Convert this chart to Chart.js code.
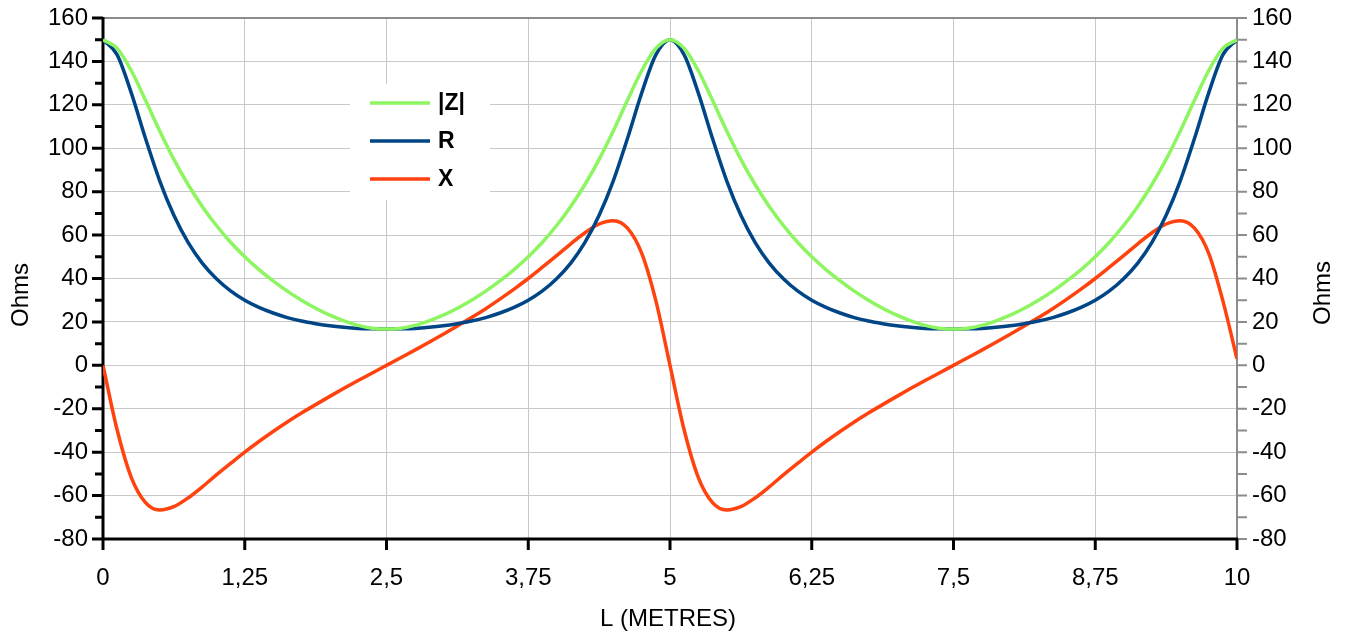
<!DOCTYPE html>
<html>
<head>
<meta charset="utf-8">
<script src="https://cdn.jsdelivr.net/npm/chart.js@4"></script>
<style>
  html, body { margin: 0; padding: 0; background: #fff; }
  #wrap { width: 1348px; height: 635px; position: relative; }
</style>
</head>
<body>
<div id="wrap"><canvas id="chart" width="1348" height="635"></canvas></div>
<script>
// line length L in metres, step 0.125
const lengths = [
  0, 0.125, 0.25, 0.375, 0.5, 0.625, 0.75, 0.875, 1, 1.125, 1.25, 1.375, 1.5, 1.625, 1.75, 1.875,
  2, 2.125, 2.25, 2.375, 2.5, 2.625, 2.75, 2.875, 3, 3.125, 3.25, 3.375, 3.5, 3.625, 3.75, 3.875,
  4, 4.125, 4.25, 4.375, 4.5, 4.625, 4.75, 4.875, 5, 5.125, 5.25, 5.375, 5.5, 5.625, 5.75, 5.875,
  6, 6.125, 6.25, 6.375, 6.5, 6.625, 6.75, 6.875, 7, 7.125, 7.25, 7.375, 7.5, 7.625, 7.75, 7.875,
  8, 8.125, 8.25, 8.375, 8.5, 8.625, 8.75, 8.875, 9, 9.125, 9.25, 9.375, 9.5, 9.625, 9.75, 9.875, 10
];

const zMag = [
  150, 146.0, 135.7, 122.1, 108.0, 94.9, 83.3, 73.2, 64.4, 56.7, 50, 44.1, 38.9, 34.2, 30.0, 26.3,
  23.1, 20.5, 18.4, 17.1, 16.7, 17.1, 18.4, 20.5, 23.1, 26.3, 30.0, 34.2, 38.9, 44.1, 50, 56.7,
  64.4, 73.2, 83.3, 94.9, 108.0, 122.1, 135.7, 146.0, 150, 146.0, 135.7, 122.1, 108.0, 94.9, 83.3, 73.2,
  64.4, 56.7, 50, 44.1, 38.9, 34.2, 30.0, 26.3, 23.1, 20.5, 18.4, 17.1, 16.7, 17.1, 18.4, 20.5,
  23.1, 26.3, 30.0, 34.2, 38.9, 44.1, 50, 56.7, 64.4, 73.2, 83.3, 94.9, 108.0, 122.1, 135.7, 146.0, 150
];

const resistance = [
  150, 143.0, 125.4, 104.5, 85.0, 69.1, 56.6, 47.1, 39.9, 34.3, 30, 26.7, 24.1, 22.0, 20.4, 19.2,
  18.2, 17.5, 17.0, 16.8, 16.7, 16.8, 17.0, 17.5, 18.2, 19.2, 20.4, 22.0, 24.1, 26.7, 30, 34.3,
  39.9, 47.1, 56.6, 69.1, 85.0, 104.5, 125.4, 143.0, 150, 143.0, 125.4, 104.5, 85.0, 69.1, 56.6, 47.1,
  39.9, 34.3, 30, 26.7, 24.1, 22.0, 20.4, 19.2, 18.2, 17.5, 17.0, 16.8, 16.7, 16.8, 17.0, 17.5,
  18.2, 19.2, 20.4, 22.0, 24.1, 26.7, 30, 34.3, 39.9, 47.1, 56.6, 69.1, 85.0, 104.5, 125.4, 143.0, 150
];

const reactance = [
  0, -29.8, -51.7, -63.2, -66.6, -65.1, -61.1, -56.0, -50.5, -45.2, -40, -35.1, -30.5, -26.1, -22.0, -18.1,
  -14.3, -10.6, -7.0, -3.5, 0, 3.5, 7.0, 10.6, 14.3, 18.1, 22.0, 26.1, 30.5, 35.1, 40, 45.2,
  50.5, 56.0, 61.1, 65.1, 66.6, 63.2, 51.7, 29.8, 0, -29.8, -51.7, -63.2, -66.6, -65.1, -61.1, -56.0,
  -50.5, -45.2, -40, -35.1, -30.5, -26.1, -22.0, -18.1, -14.3, -10.6, -7.0, -3.5, 0, 3.5, 7.0, 10.6,
  14.3, 18.1, 22.0, 26.1, 30.5, 35.1, 40, 45.2, 50.5, 56.0, 61.1, 65.1, 66.6, 63.2, 51.7, 29.8, 3
];

const seriesNames = ['|Z|', 'R', 'X'];
const seriesColors = ['#8cf55f', '#004586', '#ff420e'];
const xTicks = [0, 1.25, 2.5, 3.75, 5, 6.25, 7.5, 8.75, 10];
const xTitle = 'L (METRES)';
const yTitle = 'Ohms';

const FONT = '"Liberation Sans", Arial, sans-serif';
const FS = 24;

function toPoints(arr) {
  return arr.map((v, i) => ({ x: lengths[i], y: v }));
}

function fmtComma(v) {
  return String(v).replace('.', ',');
}

// axis lines, tick marks, titles and the in-plot legend
const decorPlugin = {
  id: 'decor',
  beforeDatasetsDraw(chart) {
    const ctx = chart.ctx;
    const a = chart.chartArea;
    const ys = chart.scales.y;
    const xs = chart.scales.x;
    ctx.save();
    // top border
    ctx.strokeStyle = '#8c8c8c';
    ctx.lineWidth = 2;
    ctx.beginPath();
    ctx.moveTo(a.left, a.top);
    ctx.lineTo(a.right, a.top);
    ctx.stroke();
    // right axis (grey) with ticks every 10
    ctx.beginPath();
    ctx.moveTo(a.right, a.top);
    ctx.lineTo(a.right, a.bottom);
    for (let v = -80; v <= 160; v += 10) {
      const py = ys.getPixelForValue(v);
      ctx.moveTo(a.right, py);
      ctx.lineTo(a.right + 10, py);
    }
    ctx.stroke();
    // left axis (black)
    ctx.strokeStyle = '#000';
    ctx.lineWidth = 3;
    ctx.beginPath();
    ctx.moveTo(a.left, a.top - 1);
    ctx.lineTo(a.left, a.bottom + 1);
    for (let v = -80; v <= 160; v += 10) {
      const py = ys.getPixelForValue(v);
      const len = (v % 20 === 0) ? 11 : 8;
      ctx.moveTo(a.left, py);
      ctx.lineTo(a.left - len, py);
    }
    ctx.stroke();
    // bottom axis (black)
    ctx.beginPath();
    ctx.moveTo(a.left - 1, a.bottom);
    ctx.lineTo(a.right + 1, a.bottom);
    xTicks.forEach(v => {
      const px = xs.getPixelForValue(v);
      ctx.moveTo(px, a.bottom);
      ctx.lineTo(px, a.bottom + 11);
    });
    ctx.stroke();
    ctx.restore();
  },
  afterDraw(chart) {
    const ctx = chart.ctx;
    const a = chart.chartArea;
    ctx.save();
    ctx.fillStyle = '#000';
    ctx.font = FS + 'px ' + FONT;
    ctx.textAlign = 'center';
    ctx.textBaseline = 'middle';
    ctx.fillText(xTitle, (a.left + a.right) / 2 - 2, 619);
    ctx.save();
    ctx.translate(21, 295);
    ctx.rotate(-Math.PI / 2);
    ctx.fillText(yTitle, 0, 0);
    ctx.restore();
    ctx.save();
    ctx.translate(1323, 293);
    ctx.rotate(-Math.PI / 2);
    ctx.fillText(yTitle, 0, 0);
    ctx.restore();

    // legend box
    const bx = 350, by = 84, bw = 140, bh = 116;
    ctx.fillStyle = '#fff';
    ctx.fillRect(bx, by, bw, bh);
    ctx.font = 'bold 23px ' + FONT;
    ctx.textAlign = 'left';
    chart.data.datasets.forEach((ds, i) => {
      const ly = 103 + i * 38;
      ctx.strokeStyle = ds.borderColor;
      ctx.lineWidth = 3.5;
      ctx.beginPath();
      ctx.moveTo(370, ly);
      ctx.lineTo(430, ly);
      ctx.stroke();
      ctx.fillStyle = '#000';
      ctx.fillText(ds.label, 438, ly + 1);
    });
    ctx.restore();
  }
};

const datasets = [zMag, resistance, reactance].map((arr, i) => ({
  label: seriesNames[i],
  data: toPoints(arr),
  borderColor: seriesColors[i],
  backgroundColor: seriesColors[i],
  borderWidth: 3.5,
  pointRadius: 0,
  cubicInterpolationMode: 'monotone',
  fill: false,
  yAxisID: 'y'
}));

function noPad(s) {
  s.paddingTop = 0;
  s.paddingBottom = 0;
  s.paddingLeft = 0;
  s.paddingRight = 0;
}

new Chart(document.getElementById('chart'), {
  type: 'line',
  data: { datasets: datasets },
  options: {
    responsive: false,
    animation: false,
    events: [],
    layout: { padding: { top: 18, left: 0, right: 0, bottom: 0 } },
    plugins: {
      legend: { display: false },
      tooltip: { enabled: false }
    },
    scales: {
      x: {
        type: 'linear',
        min: 0,
        max: 10,
        afterBuildTicks: s => {
          s.ticks = xTicks.map(v => ({ value: v }));
        },
        afterFit: s => { s.height = 96; noPad(s); },
        grid: { color: '#c8c8c8', lineWidth: 1, drawTicks: false },
        border: { display: false },
        ticks: {
          color: '#000',
          font: { family: FONT, size: FS },
          padding: 25,
          maxRotation: 0,
          callback: v => fmtComma(v)
        }
      },
      y: {
        position: 'left',
        min: -80,
        max: 160,
        afterFit: s => { s.width = 103; noPad(s); },
        grid: { color: '#c8c8c8', lineWidth: 1, drawTicks: false },
        border: { display: false },
        ticks: {
          stepSize: 20,
          color: '#000',
          font: { family: FONT, size: FS },
          padding: 15
        }
      },
      y2: {
        position: 'right',
        min: -80,
        max: 160,
        afterFit: s => { s.width = 111; noPad(s); },
        grid: { display: false, drawTicks: false },
        border: { display: false },
        ticks: {
          stepSize: 20,
          color: '#000',
          font: { family: FONT, size: FS },
          padding: 15
        }
      }
    }
  },
  plugins: [decorPlugin]
});
</script>
</body>
</html>
